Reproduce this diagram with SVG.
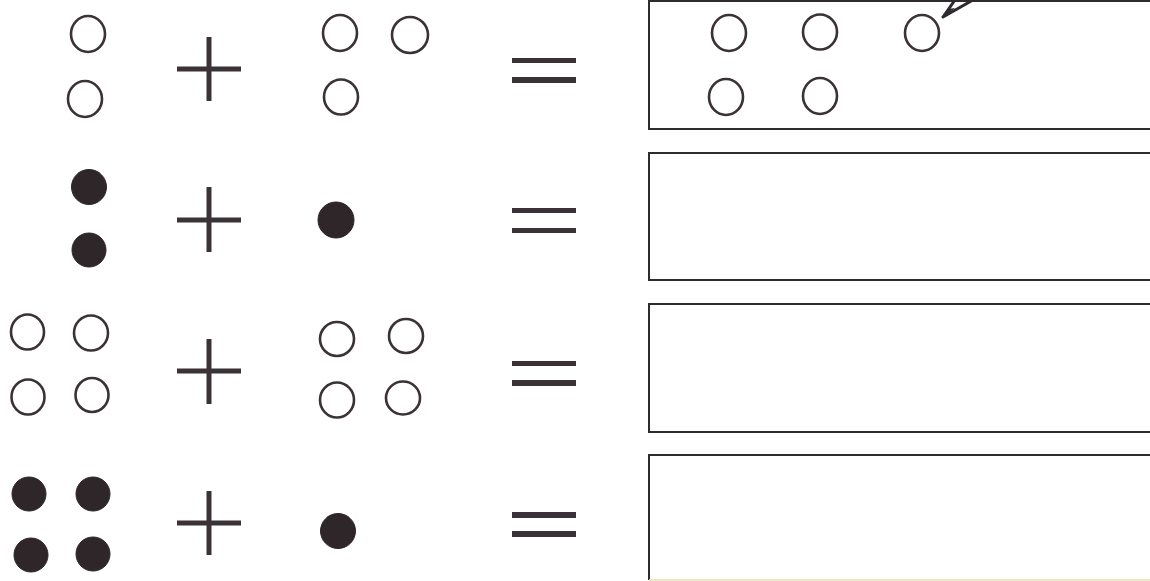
<svg xmlns="http://www.w3.org/2000/svg" width="1150" height="581" viewBox="0 0 1150 581">
<style>
.o{fill:none;stroke:#3a3236;stroke-width:2.6}
.f{fill:#2e2629;stroke:#2e2629;stroke-width:1}
.op{stroke:#3a3236;stroke-width:5;fill:none}
.eq{fill:#3a3236}
.box{fill:none;stroke:#2f2a2e;stroke-width:2}
</style>
<rect width="1150" height="581" fill="#ffffff"/>
<g id="row1">
  <g id="r1-a"><ellipse class="o" cx="88" cy="34" rx="17" ry="18"/><ellipse class="o" cx="85" cy="99" rx="17" ry="18"/></g>
  <g id="r1-plus"><line class="op" x1="209" y1="37" x2="209" y2="101"/><line class="op" x1="177" y1="69" x2="241" y2="69"/></g>
  <g id="r1-b"><ellipse class="o" cx="340" cy="33" rx="17" ry="18"/><ellipse class="o" cx="410" cy="35" rx="18" ry="18"/><ellipse class="o" cx="341" cy="97" rx="17" ry="17.5"/></g>
  <g id="r1-eq"><rect class="eq" x="512" y="58" width="64" height="5"/><rect class="eq" x="512" y="77" width="64" height="6"/></g>
  <g id="r1-box"><rect class="box" x="649" y="1" width="520" height="128"/>
    <ellipse class="o" cx="729" cy="33" rx="17" ry="18"/><ellipse class="o" cx="820" cy="32" rx="17" ry="17.5"/><ellipse class="o" cx="922" cy="33" rx="17" ry="18"/>
    <ellipse class="o" cx="726" cy="97" rx="17" ry="18"/><ellipse class="o" cx="820" cy="96" rx="17" ry="18"/>
  </g>
  <g id="pencil"><path d="M943,17 L955,0 M943,17 L973,0" stroke="#2f2a2e" stroke-width="3" fill="none" stroke-linecap="round"/><path d="M943,18 L948,9 L955,8 Z" fill="#2f2a2e"/></g>
</g>
<g id="row2">
  <g id="r2-a"><circle class="f" cx="89" cy="187" r="17.5"/><circle class="f" cx="89" cy="250" r="17"/></g>
  <g id="r2-plus"><line class="op" x1="209" y1="187" x2="209" y2="252"/><line class="op" x1="177" y1="220" x2="241" y2="220"/></g>
  <g id="r2-b"><circle class="f" cx="336" cy="220" r="18"/></g>
  <g id="r2-eq"><rect class="eq" x="512" y="208" width="64" height="5"/><rect class="eq" x="512" y="228" width="64" height="5"/></g>
  <g id="r2-box"><rect class="box" x="649" y="153" width="520" height="127"/></g>
</g>
<g id="row3">
  <g id="r3-a"><ellipse class="o" cx="27.5" cy="332" rx="16.5" ry="17.5"/><ellipse class="o" cx="91" cy="333" rx="17" ry="17.5"/><ellipse class="o" cx="28" cy="397" rx="16.5" ry="17.5"/><ellipse class="o" cx="92" cy="395" rx="16.5" ry="17"/></g>
  <g id="r3-plus"><line class="op" x1="209" y1="339" x2="209" y2="404"/><line class="op" x1="177" y1="371" x2="241" y2="371"/></g>
  <g id="r3-b"><ellipse class="o" cx="337" cy="339" rx="17" ry="17"/><ellipse class="o" cx="406" cy="336" rx="17" ry="17"/><ellipse class="o" cx="337" cy="400" rx="17" ry="17.5"/><ellipse class="o" cx="403" cy="398" rx="17" ry="16.5"/></g>
  <g id="r3-eq"><rect class="eq" x="512" y="361" width="64" height="5"/><rect class="eq" x="512" y="380" width="64" height="6"/></g>
  <g id="r3-box"><rect class="box" x="649" y="304" width="520" height="128"/></g>
</g>
<g id="row4">
  <g id="r4-a"><circle class="f" cx="29" cy="494" r="17"/><circle class="f" cx="93" cy="494" r="17"/><circle class="f" cx="31" cy="555" r="17"/><circle class="f" cx="93" cy="554" r="17"/></g>
  <g id="r4-plus"><line class="op" x1="209" y1="491" x2="209" y2="555"/><line class="op" x1="177" y1="523" x2="241" y2="523"/></g>
  <g id="r4-b"><circle class="f" cx="338" cy="531" r="17.5"/></g>
  <g id="r4-eq"><rect class="eq" x="512" y="512" width="64" height="6"/><rect class="eq" x="512" y="531" width="64" height="6"/></g>
  <g id="r4-box"><path class="box" d="M1160,455 L649,455 L649,580"/><line x1="649" y1="580" x2="1150" y2="580" stroke="#e8e2b0" stroke-width="1.5"/></g>
</g>
</svg>
